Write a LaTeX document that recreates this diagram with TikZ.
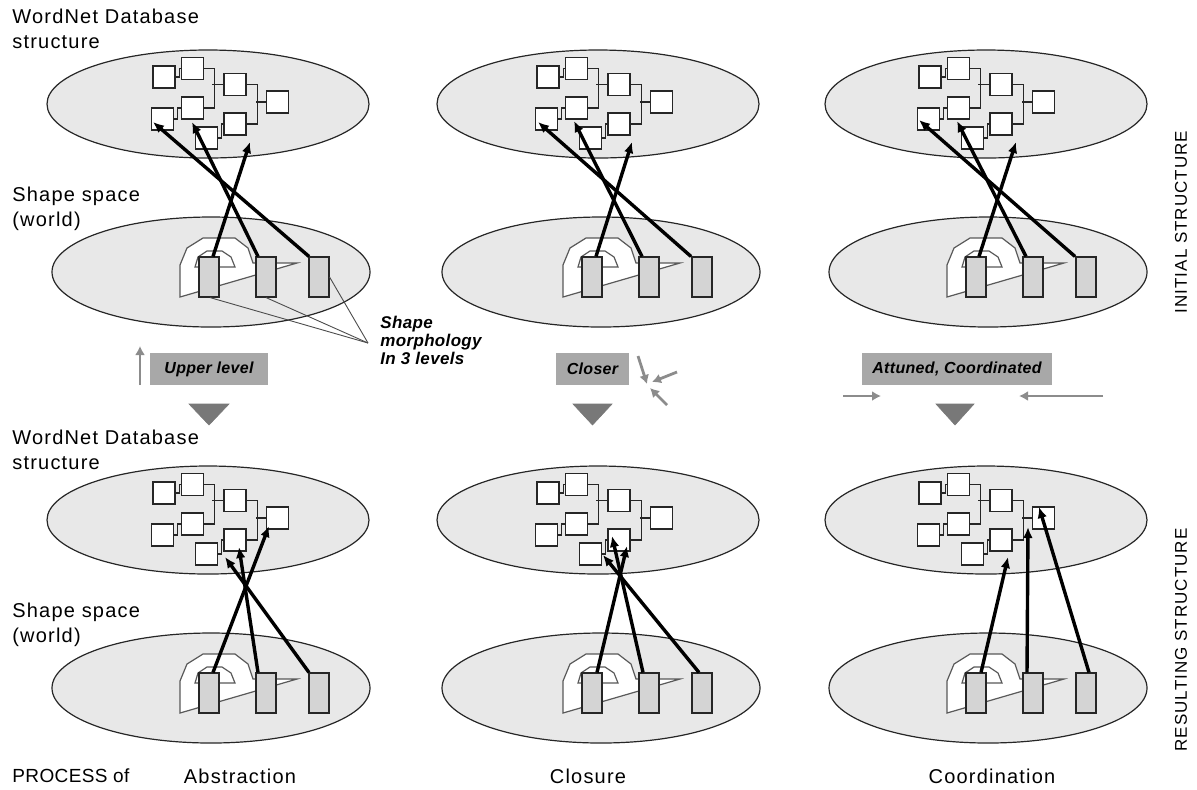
\documentclass[tikz,border=0pt]{standalone}
\usepackage{fontspec}
\setmainfont{Liberation Sans}
\newfontfamily\widefont[LetterSpace=6]{Liberation Sans}
\newfontfamily\ilfont[LetterSpace=2]{Liberation Sans}
\usetikzlibrary{arrows.meta,shapes.geometric}
\definecolor{ellfill}{gray}{0.91}
\definecolor{rectfill}{gray}{0.83}
\definecolor{lblfill}{gray}{0.66}
\definecolor{trifill}{gray}{0.47}
\definecolor{smallarr}{gray}{0.55}
\definecolor{edgecol}{gray}{0.15}
\tikzset{
  dbell/.style={ellipse, draw=edgecol, fill=ellfill, line width=0.6pt, inner sep=0pt, minimum width=161pt, minimum height=54pt},
  shell/.style={ellipse, draw=edgecol, fill=ellfill, line width=0.6pt, inner sep=0pt, minimum width=159pt, minimum height=55pt},
  wbox/.style={draw=edgecol, fill=white, line width=0.55pt, inner sep=0pt, minimum width=11pt, minimum height=11pt},
  srect/.style={draw=edgecol, fill=rectfill, line width=0.55pt, inner sep=0pt, minimum width=10pt, minimum height=20pt},
  conn/.style={draw=edgecol, line width=0.55pt},
  morph/.style={draw=black!65, fill=white, line width=0.6pt, line join=miter},
  big/.style={draw=black, line width=1.7pt, -{Latex[length=5.5pt,width=4.8pt]}},
  thinline/.style={draw=black!70, line width=0.45pt},
  gbox/.style={fill=lblfill, inner sep=0pt, minimum height=16pt, font=\ilfont\fontsize{8}{10}\selectfont\bfseries\itshape},
  tri/.style={fill=trifill, draw=trifill, line width=0.3pt, line join=miter},
  smarrow/.style={draw=smallarr, line width=1.4pt, -{Latex[length=4.5pt,width=5pt]}},
  lbl/.style={inner sep=0pt, align=left, font=\widefont\fontsize{10}{12.5}\selectfont},
  proclbl/.style={inner sep=0pt, align=left, font=\ilfont\fontsize{9.5}{11}\selectfont},
  sidelbl/.style={inner sep=0pt, rotate=90, font=\widefont\fontsize{8.5}{10}\selectfont},
  mlbl/.style={inner sep=0pt, align=left, font=\ilfont\fontsize{8.5}{9}\selectfont\bfseries\itshape}
}
\newcommand{\dbpanel}[3]{%
\begin{scope}[shift={(#1,#2)}]
\node[wbox] (#3A) at (164,77) {};
\node[wbox] (#3B) at (192.5,68.5) {};
\node[wbox] (#3C) at (235,84.5) {};
\node[wbox] (#3D) at (277.5,102) {};
\node[wbox] (#3E) at (162.5,119) {};
\node[wbox] (#3F) at (192.5,108) {};
\node[wbox] (#3G) at (235,124) {};
\node[wbox] (#3H) at (206.5,138) {};
\draw[conn] (#3A.east) -- ++(3.5,0) |- (#3B.west);
\draw[conn] (#3E.east) -- ++(3.5,0) |- (#3F.west);
\draw[conn] (#3H.east) -- ++(3,0) |- (#3G.west);
\draw[conn] (#3B.east) -- ++(10,0) |- (#3F.east);
\draw[conn] (#3C.west) -- ++(-11,0);
\draw[conn] (#3C.east) -- ++(11,0) |- (#3G.east);
\draw[conn] (#3D.west) -- ++(-10,0);
\end{scope}}
\newcommand{\shpanel}[3]{%
\begin{scope}[shift={(#1,#2)}]
\draw[morph] (180,297) -- (180,265) -- (187,248) -- (203,238) -- (235,238) -- (248,248) -- (253,263) -- (297,263) -- cycle;
\draw[morph] (195,267) -- (198,257) -- (207,251) -- (222,251) -- (231,257) -- (235,267) -- cycle;
\node[srect] (#3a) at (209,277) {};
\node[srect] (#3b) at (266,277) {};
\node[srect] (#3c) at (319,277) {};
\end{scope}}
\begin{document}
\begin{tikzpicture}[x=0.5pt,y=-0.5pt]
\useasboundingbox (0,0) rectangle (1197,789);
% ellipses
\node[dbell] (e1) at (208,104) {};
\node[dbell] (e2) at (598,104) {};
\node[dbell] (e3) at (986,104) {};
\node[shell] (s1) at (211,272) {};
\node[shell] (s2) at (601,272) {};
\node[shell] (s3) at (988,272) {};
\node[dbell] (e4) at (208,520) {};
\node[dbell] (e5) at (598,520) {};
\node[dbell] (e6) at (986,520) {};
\node[shell] (s4) at (211,688) {};
\node[shell] (s5) at (601,688) {};
\node[shell] (s6) at (988,688) {};
% database structures
\dbpanel{0}{0}{p1}
\dbpanel{384}{0}{p2}
\dbpanel{766}{0}{p3}
\dbpanel{0}{416}{p4}
\dbpanel{384}{416}{p5}
\dbpanel{766}{416}{p6}
% shape spaces
\shpanel{0}{0}{q1}
\shpanel{383}{0}{q2}
\shpanel{767}{0}{q3}
\shpanel{0}{416}{q4}
\shpanel{383}{416}{q5}
\shpanel{767}{416}{q6}
% morphology pointer lines
\coordinate (mp) at (368,343);
\draw[thinline] ([shift={(1,0)}]q1a.south) -- (mp);
\draw[thinline] (q1b.south) -- (mp);
\draw[thinline] (q1c.east) -- (mp);
\node[mlbl, anchor=west] (ml) at (380,340) {Shape\\morphology\\In 3 levels};
% arrow tips
\coordinate (t1a) at (250,142); \coordinate (t1b) at (192,122); \coordinate (t1c) at (153,122);
\coordinate (t2a) at (632,142); \coordinate (t2b) at (574,121); \coordinate (t2c) at (538,122);
\coordinate (t3a) at (1016,142); \coordinate (t3b) at (957,121); \coordinate (t3c) at (919,120);
\coordinate (t4a) at (269,526); \coordinate (t4b) at (239,547); \coordinate (t4c) at (225,557);
\coordinate (t5a) at (627,546); \coordinate (t5b) at (612,536); \coordinate (t5c) at (603,555);
\coordinate (t6a) at (1008,557); \coordinate (t6b) at (1028,527); \coordinate (t6c) at (1039,507);
% thick arrows
\draw[big] ([shift={(4,0)}]q1a.north) -- (t1a);
\draw[big] ([shift={(-8,0)}]q1b.north) -- (t1b);
\draw[big] ([shift={(-10,0)}]q1c.north) -- (t1c);
\draw[big] ([shift={(4,0)}]q2a.north) -- (t2a);
\draw[big] ([shift={(-7,0)}]q2b.north) -- (t2b);
\draw[big] ([shift={(-11,0)}]q2c.north) -- (t2c);
\draw[big] ([shift={(3,0)}]q3a.north) -- (t3a);
\draw[big] ([shift={(-7,0)}]q3b.north) -- (t3b);
\draw[big] ([shift={(-11,0)}]q3c.north) -- (t3c);
\draw[big] ([shift={(4,0)}]q4a.north) -- (t4a);
\draw[big] ([shift={(-8,0)}]q4b.north) -- (t4b);
\draw[big] ([shift={(-10,0)}]q4c.north) -- (t4c);
\draw[big] ([shift={(5,0)}]q5a.north) -- (t5a);
\draw[big] ([shift={(-6,0)}]q5b.north) -- (t5b);
\draw[big] ([shift={(-3,0)}]q5c.north) -- (t5c);
\draw[big] ([shift={(5,0)}]q6a.north) -- (t6a);
\draw[big] ([shift={(-6,0)}]q6b.north) -- (t6b);
\draw[big] ([shift={(3,0)}]q6c.north) -- (t6c);
% process labels
\node[gbox, minimum width=59pt] (lb1) at (209,369) {Upper level};
\node[gbox, minimum width=36.5pt] (lb2) at (592.5,369) {Closer};
\node[gbox, minimum width=95pt] (lb3) at (957,369) {Attuned, Coordinated};
\draw[tri] (189,404) -- (229,404) -- (209,425) -- cycle;
\draw[tri] (573,404) -- (612,404) -- (592.5,425) -- cycle;
\draw[tri] (936,404) -- (974,404) -- (955,425) -- cycle;
% small gray arrows
\coordinate (u0) at (140,385); \coordinate (u1) at (140,346);
\draw[smarrow] (u0) -- (u1);
\coordinate (c0) at (638,356); \coordinate (c1) at (647,384);
\coordinate (c2) at (677,372); \coordinate (c3) at (652,382);
\coordinate (c4) at (667,405); \coordinate (c5) at (650,388);
\draw[smarrow] (c0) -- (c1);
\draw[smarrow] (c2) -- (c3);
\draw[smarrow] (c4) -- (c5);
\coordinate (a0) at (843,396); \coordinate (a1) at (881,396);
\coordinate (a2) at (1103,396); \coordinate (a3) at (1019,396);
\draw[smarrow] (a0) -- (a1);
\draw[smarrow] (a2) -- (a3);
% texts
\node[lbl, anchor=west] (w1) at (12,29) {WordNet Database\\structure};
\node[lbl, anchor=west] (w2) at (12,209) {Shape space\\(world)};
\node[lbl, anchor=west] (w3) at (12,450) {WordNet Database\\structure};
\node[lbl, anchor=west] (w4) at (12,625) {Shape space\\(world)};
\node[proclbl, anchor=west] (w5) at (12,776) {PROCESS of};
\node[lbl] (w6) at (240,776) {Abstraction};
\node[lbl] (w7) at (588,776) {Closure};
\node[lbl] (w8) at (992,776) {Coordination};
\node[sidelbl] (w9) at (1181,222) {INITIAL STRUCTURE};
\node[sidelbl] (w10) at (1181,640) {RESULTING STRUCTURE};
\end{tikzpicture}
\end{document}
